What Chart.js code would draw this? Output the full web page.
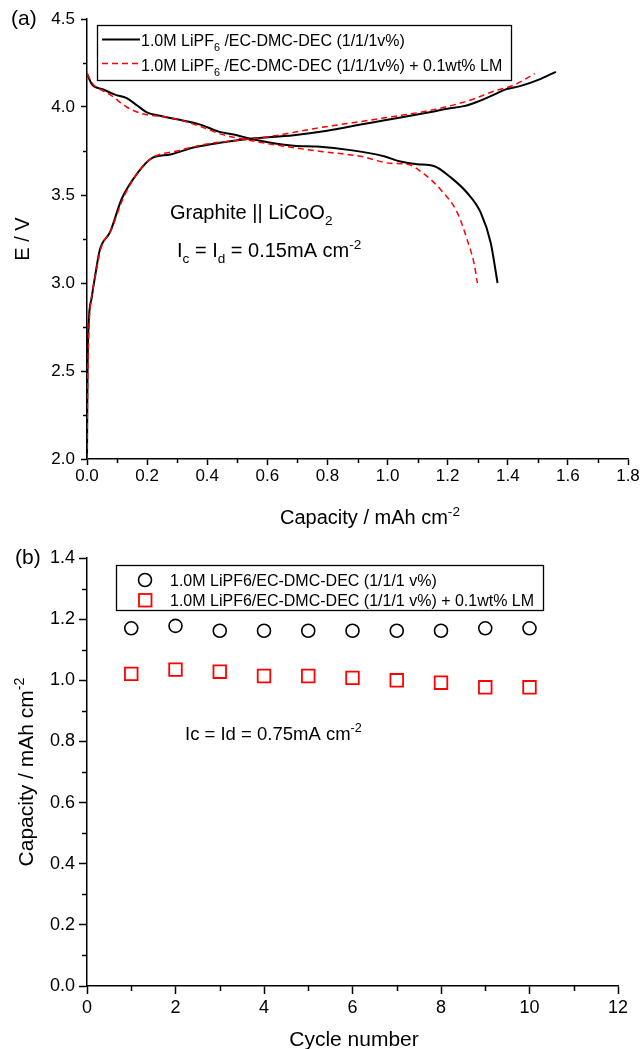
<!DOCTYPE html>
<html><head><meta charset="utf-8">
<script src="https://cdn.jsdelivr.net/npm/chart.js@4/dist/chart.umd.min.js"></script>
<style>
html,body{margin:0;padding:0;background:#fff;width:643px;height:1049px;overflow:hidden}
#wa{position:absolute;left:0;top:0;width:643px;height:530px}
#wb{position:absolute;left:0;top:530px;width:643px;height:519px}
canvas{display:block}
</style></head><body>
<div id="wa"><canvas id="ca" width="643" height="530"></canvas></div>
<div id="wb"><canvas id="cb" width="643" height="519"></canvas></div>
<script>
// ---------- Data: panel (a) charge/discharge curves ----------
const blackChargeCap = [0,0.001,0.002,0.005,0.016,0.027,0.043,0.077,0.116,0.166,0.216,0.277,0.354,0.454,0.543,0.688,0.799,0.91,0.977,1.043,1.154,1.199,1.254,1.299,1.354,1.393,1.443,1.51,1.56];
const blackChargeV   = [2.0,2.3,2.52,2.75,2.92,3.04,3.19,3.29,3.48,3.62,3.71,3.73,3.77,3.80,3.82,3.84,3.865,3.90,3.92,3.94,3.975,3.99,4.005,4.03,4.07,4.10,4.12,4.16,4.20];
const blackDischargeCap = [0,0.016,0.054,0.093,0.132,0.166,0.199,0.243,0.299,0.377,0.438,0.499,0.543,0.688,0.766,0.877,0.988,1.043,1.099,1.154,1.21,1.266,1.31,1.343,1.366];
const blackDischargeV   = [4.19,4.13,4.10,4.07,4.05,4.01,3.97,3.95,3.93,3.90,3.86,3.84,3.82,3.78,3.775,3.755,3.72,3.69,3.675,3.665,3.60,3.51,3.40,3.23,3.00];
const redChargeCap = [0,0.002,0.004,0.008,0.018,0.03,0.045,0.08,0.12,0.17,0.215,0.3,0.4,0.5,0.6,0.766,0.977,1.154,1.277,1.354,1.421,1.49];
const redChargeV   = [2.0,2.4,2.6,2.8,2.95,3.06,3.19,3.30,3.48,3.63,3.71,3.75,3.79,3.81,3.83,3.88,3.935,3.985,4.04,4.09,4.125,4.19];
const redDischargeCap = [0,0.02,0.054,0.077,0.132,0.188,0.277,0.377,0.438,0.543,0.766,0.91,1.01,1.066,1.121,1.177,1.232,1.266,1.288,1.299];
const redDischargeV   = [4.19,4.13,4.09,4.07,4.00,3.96,3.94,3.89,3.85,3.81,3.75,3.72,3.68,3.675,3.62,3.53,3.40,3.24,3.11,3.00];

// ---------- Data: panel (b) cycling ----------
const cycles = [1,2,3,4,5,6,7,8,9,10];
const capacityBase = [1.170,1.178,1.162,1.162,1.162,1.162,1.162,1.162,1.170,1.170];
const capacityLM   = [1.021,1.035,1.028,1.014,1.014,1.008,1.000,0.992,0.977,0.977];

// ---------- Tick settings ----------
const aXTicks = {min:0, max:1.8, step:0.2, minor:0.1};
const aYTicks = {min:2.0, max:4.5, step:0.5, minor:0.25};
const bXTicks = {min:0, max:12, step:2, minor:1};
const bYTicks = {min:0, max:1.4, step:0.2, minor:0.1};

const FAM = 'Arial, "Liberation Sans", Helvetica, sans-serif';
Chart.defaults.font.family = FAM;
Chart.defaults.color = '#000';

function pts(xs, ys){ return xs.map((x,i)=>({x:x, y:ys[i]})); }

function fnt(size){ return size + 'px ' + FAM; }
function richWidth(ctx, segs, size){
  let w = 0;
  for (const s of segs){ ctx.font = fnt(s.s ? size*0.68 : size); w += ctx.measureText(s.t).width; }
  return w;
}
function drawRich(ctx, segs, x, y, size, align){
  const w = richWidth(ctx, segs, size);
  let cx = align === 'center' ? x - w/2 : x;
  ctx.textBaseline = 'alphabetic'; ctx.textAlign = 'left'; ctx.fillStyle = '#000';
  for (const s of segs){
    const sz = s.s ? size*0.68 : size;
    ctx.font = fnt(sz);
    const dy = s.s === 'sub' ? size*0.30 : (s.s === 'sup' ? -size*0.42 : 0);
    ctx.fillText(s.t, cx, y + dy);
    cx += ctx.measureText(s.t).width;
  }
}
function drawRotRich(ctx, segs, cx, cy, size){
  ctx.save(); ctx.translate(cx, cy); ctx.rotate(-Math.PI/2);
  drawRich(ctx, segs, 0, size*0.36, size, 'center');
  ctx.restore();
}
function minorTickPlugin(cfg){
  return {
    id: 'minorTicks',
    afterDraw(chart){
      const ctx = chart.ctx; ctx.save(); ctx.strokeStyle = '#000'; ctx.lineWidth = 1.5;
      for (const c of cfg){
        const sc = chart.scales[c.id];
        const n = Math.round((c.t.max - c.t.min)/c.t.minor);
        for (let i=0;i<=n;i++){
          const v = c.t.min + i*c.t.minor;
          const r = (v - c.t.min)/c.t.step;
          if (Math.abs(r - Math.round(r)) < 1e-6) continue;
          const p = Math.round(sc.getPixelForValue(v)) + 0.5;
          ctx.beginPath();
          if (sc.isHorizontal()){ ctx.moveTo(p, sc.top); ctx.lineTo(p, sc.top + c.len); }
          else { ctx.moveTo(sc.right, p); ctx.lineTo(sc.right - c.len, p); }
          ctx.stroke();
        }
      }
      ctx.restore();
    }
  };
}
function axisOpts(t, fontSize, tickLen, pad, fmt, fitSize, horiz){
  return {
    type: 'linear', min: t.min, max: t.max,
    ticks: { stepSize: t.step, autoSkip: false, maxRotation: 0, padding: pad,
             font: {size: fontSize}, color: '#000', callback: fmt },
    grid: { drawOnChartArea: false, drawTicks: true, tickLength: tickLen, tickColor: '#000', tickWidth: 1.5 },
    border: { display: true, color: '#000', width: 1.5 },
    title: { display: false },
    afterFit: horiz ? (s)=>{ s.height = fitSize; } : (s)=>{ s.width = fitSize; }
  };
}

// ---------- Panel (a) ----------
const textA = {
  id: 'textA',
  afterDraw(chart){
    const ctx = chart.ctx; ctx.save();
    // panel label
    drawRich(ctx, [{t:'(a)'}], 11, 25, 21, 'left');
    // axis titles
    drawRich(ctx, [{t:'Capacity / mAh cm'},{t:'-2', s:'sup'}], 370, 524, 20, 'center');
    drawRotRich(ctx, [{t:'E / V'}], 22, 239, 20);
    // annotations
    drawRich(ctx, [{t:'Graphite || LiCoO'},{t:'2', s:'sub'}], 170, 219, 20, 'left');
    drawRich(ctx, [{t:'I'},{t:'c', s:'sub'},{t:' = I'},{t:'d', s:'sub'},{t:' = 0.15mA cm'},{t:'-2', s:'sup'}], 177, 257, 20, 'left');
    // legend
    ctx.strokeStyle = '#000'; ctx.lineWidth = 1.3;
    ctx.strokeRect(97.5, 25.5, 414, 55);
    ctx.beginPath(); ctx.lineWidth = 2; ctx.setLineDash([]);
    ctx.moveTo(102, 39.5); ctx.lineTo(140, 39.5); ctx.stroke();
    ctx.beginPath(); ctx.strokeStyle = '#ff0000'; ctx.lineWidth = 1.5; ctx.setLineDash([6,4]);
    ctx.moveTo(102, 63.5); ctx.lineTo(140, 63.5); ctx.stroke();
    ctx.setLineDash([]);
    drawRich(ctx, [{t:'1.0M LiPF'},{t:'6', s:'sub'},{t:' /EC-DMC-DEC (1/1/1v%)'}], 141, 46, 16, 'left');
    drawRich(ctx, [{t:'1.0M LiPF'},{t:'6', s:'sub'},{t:' /EC-DMC-DEC (1/1/1v%) + 0.1wt% LM'}], 141, 71, 16, 'left');
    ctx.restore();
  }
};

new Chart(document.getElementById('ca'), {
  type: 'scatter',
  data: { datasets: [
    { label: 'black charge', data: pts(blackChargeCap, blackChargeV), showLine: true, borderColor: '#000', borderWidth: 2, pointRadius: 0, cubicInterpolationMode: 'monotone', order: 1 },
    { label: 'black discharge', data: pts(blackDischargeCap, blackDischargeV), showLine: true, borderColor: '#000', borderWidth: 2, pointRadius: 0, cubicInterpolationMode: 'monotone', order: 1 },
    { label: 'red charge', data: pts(redChargeCap, redChargeV), showLine: true, borderColor: '#ff0000', borderWidth: 1.5, borderDash: [6,4], pointRadius: 0, cubicInterpolationMode: 'monotone', order: 0 },
    { label: 'red discharge', data: pts(redDischargeCap, redDischargeV), showLine: true, borderColor: '#ff0000', borderWidth: 1.5, borderDash: [6,4], pointRadius: 0, cubicInterpolationMode: 'monotone', order: 0 }
  ]},
  options: {
    responsive: false, animation: false, devicePixelRatio: 1,
    layout: { autoPadding: false, padding: { left: 0, right: 15, top: 19, bottom: 0 } },
    plugins: { legend: {display:false}, tooltip: {enabled:false} },
    scales: {
      x: axisOpts(aXTicks, 17, 6, 1, v => v.toFixed(1), 71, true),
      y: axisOpts(aYTicks, 17, 6, 6, v => v.toFixed(1), 87, false)
    }
  },
  plugins: [minorTickPlugin([{id:'x', t:aXTicks, len:4},{id:'y', t:aYTicks, len:4}]), textA]
});

// ---------- Panel (b) ----------
const textB = {
  id: 'textB',
  afterDraw(chart){
    const ctx = chart.ctx; ctx.save();
    drawRich(ctx, [{t:'(b)'}], 15, 34, 21, 'left');
    drawRich(ctx, [{t:'Cycle number'}], 354, 516, 21, 'center');
    drawRotRich(ctx, [{t:'Capacity / mAh cm'},{t:'-2', s:'sup'}], 25, 242, 21);
    drawRich(ctx, [{t:'Ic = Id = 0.75mA cm'},{t:'-2', s:'sup'}], 185, 210, 18.5, 'left');
    // legend
    ctx.strokeStyle = '#000'; ctx.lineWidth = 1.3;
    ctx.strokeRect(116.5, 35.5, 427, 45);
    ctx.beginPath(); ctx.lineWidth = 1.6; ctx.arc(145, 50, 6.5, 0, Math.PI*2); ctx.stroke();
    ctx.strokeStyle = '#ff0000'; ctx.lineWidth = 1.8; ctx.strokeRect(139, 64, 12.5, 12.5);
    drawRich(ctx, [{t:'1.0M LiPF6/EC-DMC-DEC (1/1/1 v%)'}], 170, 56, 16, 'left');
    drawRich(ctx, [{t:'1.0M LiPF6/EC-DMC-DEC (1/1/1 v%) + 0.1wt% LM'}], 170, 76, 16, 'left');
    ctx.restore();
  }
};

new Chart(document.getElementById('cb'), {
  type: 'scatter',
  data: { datasets: [
    { label: '1.0M LiPF6/EC-DMC-DEC (1/1/1 v%)', data: pts(cycles, capacityBase), showLine: false, pointStyle: 'circle', pointRadius: 6.5, borderColor: '#000', borderWidth: 1.6, backgroundColor: 'rgba(0,0,0,0)' },
    { label: '1.0M LiPF6/EC-DMC-DEC (1/1/1 v%) + 0.1wt% LM', data: pts(cycles, capacityLM), showLine: false, pointStyle: 'rect', pointRadius: 8.9, borderColor: '#ff0000', borderWidth: 1.8, backgroundColor: 'rgba(0,0,0,0)' }
  ]},
  options: {
    responsive: false, animation: false, devicePixelRatio: 1,
    layout: { autoPadding: false, padding: { left: 0, right: 25, top: 28, bottom: 0 } },
    plugins: { legend: {display:false}, tooltip: {enabled:false} },
    scales: {
      x: axisOpts(bXTicks, 18, 8, 3, v => String(Math.round(v)), 63, true),
      y: axisOpts(bYTicks, 18, 8, 4, v => v.toFixed(1), 87, false)
    }
  },
  plugins: [minorTickPlugin([{id:'x', t:bXTicks, len:5},{id:'y', t:bYTicks, len:5}]), textB]
});
</script>
</body></html>
